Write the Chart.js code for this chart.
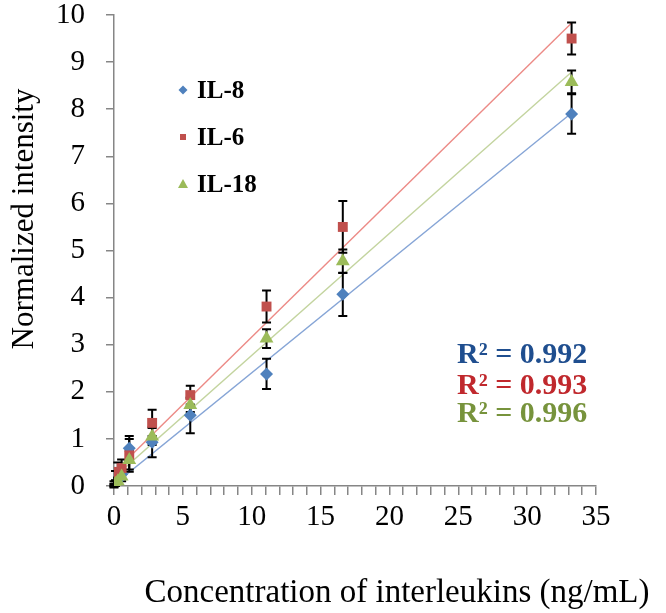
<!DOCTYPE html>
<html><head><meta charset="utf-8">
<script src="https://cdn.jsdelivr.net/npm/chart.js@4.4.0/dist/chart.umd.min.js"></script>
<style>html,body{margin:0;padding:0;background:#fff;}#wrap{width:666px;height:613px;}</style>
</head><body><div id="wrap"><canvas id="c" width="666" height="613"></canvas></div>
<script>
// ---- data ----
const concentrations = [0, 0.1, 0.25, 0.5, 1, 2.5, 5, 10, 15, 30];
const il8    = [0.02, 0.06, 0.12, 0.25, 0.80, 0.93, 1.50, 2.38, 4.07, 7.90];
const il8Err = [0.03, 0.05, 0.06, 0.10, 0.26, 0.32, 0.38, 0.32, 0.46, 0.42];
const il6    = [0.05, 0.22, 0.30, 0.38, 0.65, 1.34, 1.93, 3.81, 5.50, 9.50];
const il6Err = [0.05, 0.10, 0.20, 0.18, 0.35, 0.28, 0.20, 0.34, 0.55, 0.34];
const il18    = [0.00, 0.05, 0.10, 0.20, 0.55, 1.05, 1.72, 3.13, 4.77, 8.58];
const il18Err = [0.03, 0.05, 0.06, 0.10, 0.20, 0.18, 0.15, 0.20, 0.25, 0.24];
const seriesNames = ['IL-8', 'IL-6', 'IL-18'];
const trendSlopes = [0.263, 0.318, 0.287];
const trendIntercepts = [0.03, 0.29, 0.18];
const rSquared = ['0.992', '0.993', '0.996'];
const xTickLabels = [0, 5, 10, 15, 20, 25, 30, 35];
const yTickLabels = [0, 1, 2, 3, 4, 5, 6, 7, 8, 9, 10];
const xTitle = 'Concentration of interleukins (ng/mL)';
const yTitle = 'Normalized intensity';

const markerColors = ['#4F81BD', '#C0504D', '#9BBB59'];
const lineColors = ['#86A5D6', '#EC8A86', '#C3D49F'];
const r2Colors = ['#1F4E8F', '#C0282D', '#77933C'];
const SERIF = "'Liberation Serif', 'Times New Roman', serif";

const values = [il8, il6, il18];
const errors = [il8Err, il6Err, il18Err];
const styles = ['rectRot', 'rect', 'triangle'];
const radii = [6.5, 7, 8];

const pts = (arr) => concentrations.map((c, i) => ({x: c, y: arr[i]}));
const trendPts = (k) => {
  const x0 = Math.min(...concentrations), x1 = Math.max(...concentrations);
  return [{x: x0, y: trendSlopes[k] * x0 + trendIntercepts[k]}, {x: x1, y: trendSlopes[k] * x1 + trendIntercepts[k]}];
};

const datasets = [];
// markers: IL-18 on top, then IL-6, then IL-8
[2, 1, 0].forEach((k, j) => {
  datasets.push({
    type: 'scatter', label: seriesNames[k], data: pts(values[k]), xAxisID: 'x', yAxisID: 'y',
    pointStyle: styles[k], pointRadius: radii[k], pointHoverRadius: radii[k],
    backgroundColor: markerColors[k], borderColor: markerColors[k], borderWidth: 0,
    showLine: false, order: j + 1
  });
});
[0, 1, 2].forEach((k) => {
  datasets.push({
    type: 'line', label: seriesNames[k] + ' fit', data: trendPts(k), xAxisID: 'x', yAxisID: 'y',
    borderColor: lineColors[k], borderWidth: 1.4, pointRadius: 0, fill: false, order: 10 + k
  });
});
const FIRST_DRAWN_MARKER = 2; // IL-8 dataset index (drawn first among markers)

const overlay = {
  id: 'overlay',
  beforeDatasetDraw(chart, args) {
    if (args.index !== FIRST_DRAWN_MARKER) return;
    const ctx = chart.ctx, xs = chart.scales.x, ys = chart.scales.y;
    ctx.save();
    ctx.strokeStyle = '#000'; ctx.lineWidth = 2;
    for (let k = 0; k < 3; k++) {
      concentrations.forEach((c, i) => {
        const px = xs.getPixelForValue(c);
        const t = ys.getPixelForValue(values[k][i] + errors[k][i]);
        const b = ys.getPixelForValue(values[k][i] - errors[k][i]);
        ctx.beginPath();
        ctx.moveTo(px, t); ctx.lineTo(px, b);
        ctx.moveTo(px - 4.5, t); ctx.lineTo(px + 4.5, t);
        ctx.moveTo(px - 4.5, b); ctx.lineTo(px + 4.5, b);
        ctx.stroke();
      });
    }
    ctx.restore();
  },
  afterDraw(chart) {
    const ctx = chart.ctx;
    ctx.save();
    // axis titles
    ctx.fillStyle = '#000';
    ctx.font = '33px ' + SERIF;
    ctx.textAlign = 'center'; ctx.textBaseline = 'alphabetic';
    ctx.fillText(xTitle, 397, 602);
    ctx.save();
    ctx.translate(33, 219);
    ctx.rotate(-Math.PI / 2);
    ctx.font = '31px ' + SERIF;
    ctx.fillText(yTitle, 0, 0);
    ctx.restore();
    // legend
    const legY = [98, 145, 192];
    ctx.textAlign = 'left';
    ctx.font = 'bold 25px ' + SERIF;
    for (let k = 0; k < 3; k++) {
      const cy = legY[k] - 8, cx = 183;
      ctx.fillStyle = markerColors[k];
      ctx.beginPath();
      if (k === 0) { ctx.moveTo(cx, cy - 4.5); ctx.lineTo(cx + 4.5, cy); ctx.lineTo(cx, cy + 4.5); ctx.lineTo(cx - 4.5, cy); }
      else if (k === 1) { ctx.rect(cx - 3, cy - 3, 6, 6); }
      else { ctx.moveTo(cx, cy - 5); ctx.lineTo(cx + 5, cy + 4); ctx.lineTo(cx - 5, cy + 4); }
      ctx.closePath(); ctx.fill();
      ctx.fillStyle = '#000';
      ctx.fillText(seriesNames[k], 197, legY[k]);
    }
    // R squared
    const rY = [363, 394, 422];
    ctx.font = 'bold 30px ' + SERIF;
    for (let k = 0; k < 3; k++) {
      ctx.fillStyle = r2Colors[k];
      ctx.fillText('R\u00B2 = ' + rSquared[k], 457, rY[k]);
    }
    ctx.restore();
  }
};

new Chart(document.getElementById('c'), {
  data: {datasets},
  options: {
    responsive: false, animation: false,
    layout: {padding: {top: 15, right: 70, left: 0, bottom: 0}},
    plugins: {legend: {display: false}, tooltip: {enabled: false}},
    scales: {
      x: {type: 'linear', display: false, min: 0, max: 31.6},
      x2: {
        type: 'linear', position: 'bottom', min: 0, max: 35,
        afterFit(s) { s.height = 127; },
        grid: {drawOnChartArea: false, tickLength: 9, color: '#868686', lineWidth: 1.5},
        border: {color: '#868686', width: 1.5},
        ticks: {stepSize: 1, maxTicksLimit: 100, autoSkip: false, maxRotation: 0, padding: 8,
          color: '#000', font: {family: SERIF, size: 29, lineHeight: 1},
          callback: (v) => xTickLabels.includes(v) ? String(v) : ''}
      },
      y: {
        type: 'linear', min: 0, max: 10,
        afterFit(s) { s.width = 114; s.paddingTop = 0; s.paddingBottom = 0; },
        grid: {drawOnChartArea: false, tickLength: 8, color: '#868686', lineWidth: 1.5},
        border: {color: '#868686', width: 1.5},
        ticks: {stepSize: 1, padding: 21, color: '#000', font: {family: SERIF, size: 29, lineHeight: 1},
          callback: (v) => yTickLabels.includes(v) ? String(v) : ''}
      }
    }
  },
  plugins: [overlay]
});
</script></body></html>
